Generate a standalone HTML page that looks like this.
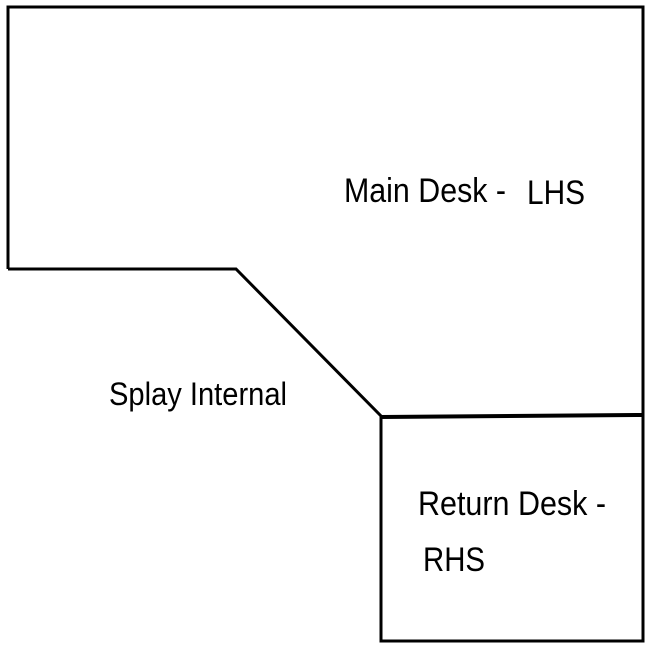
<!DOCTYPE html>
<html><head><style>
html,body{margin:0;padding:0;background:#fff;width:650px;height:650px;overflow:hidden}
svg{display:block}
text{font-family:"Liberation Sans",Arial,sans-serif;fill:#000}
</style></head><body>
<svg width="650" height="650" viewBox="0 0 650 650">
<g fill="none" stroke="#000" stroke-width="3" stroke-linejoin="miter">
<polyline points="8,269 8,7 643,7 643,641 381,641 381,416 236,269 8,269"/>
<line x1="381" y1="417" x2="643" y2="415" stroke-width="4"/>
</g>
<text x="344" y="202" font-size="34" textLength="162" lengthAdjust="spacingAndGlyphs">Main Desk -</text>
<text x="527" y="204" font-size="34" textLength="58" lengthAdjust="spacingAndGlyphs">LHS</text>
<text x="109" y="405" font-size="32" textLength="178" lengthAdjust="spacingAndGlyphs">Splay Internal</text>
<text x="418" y="515" font-size="34" textLength="188" lengthAdjust="spacingAndGlyphs">Return Desk -</text>
<text x="423" y="571" font-size="34" textLength="62" lengthAdjust="spacingAndGlyphs">RHS</text>
</svg>
</body></html>
